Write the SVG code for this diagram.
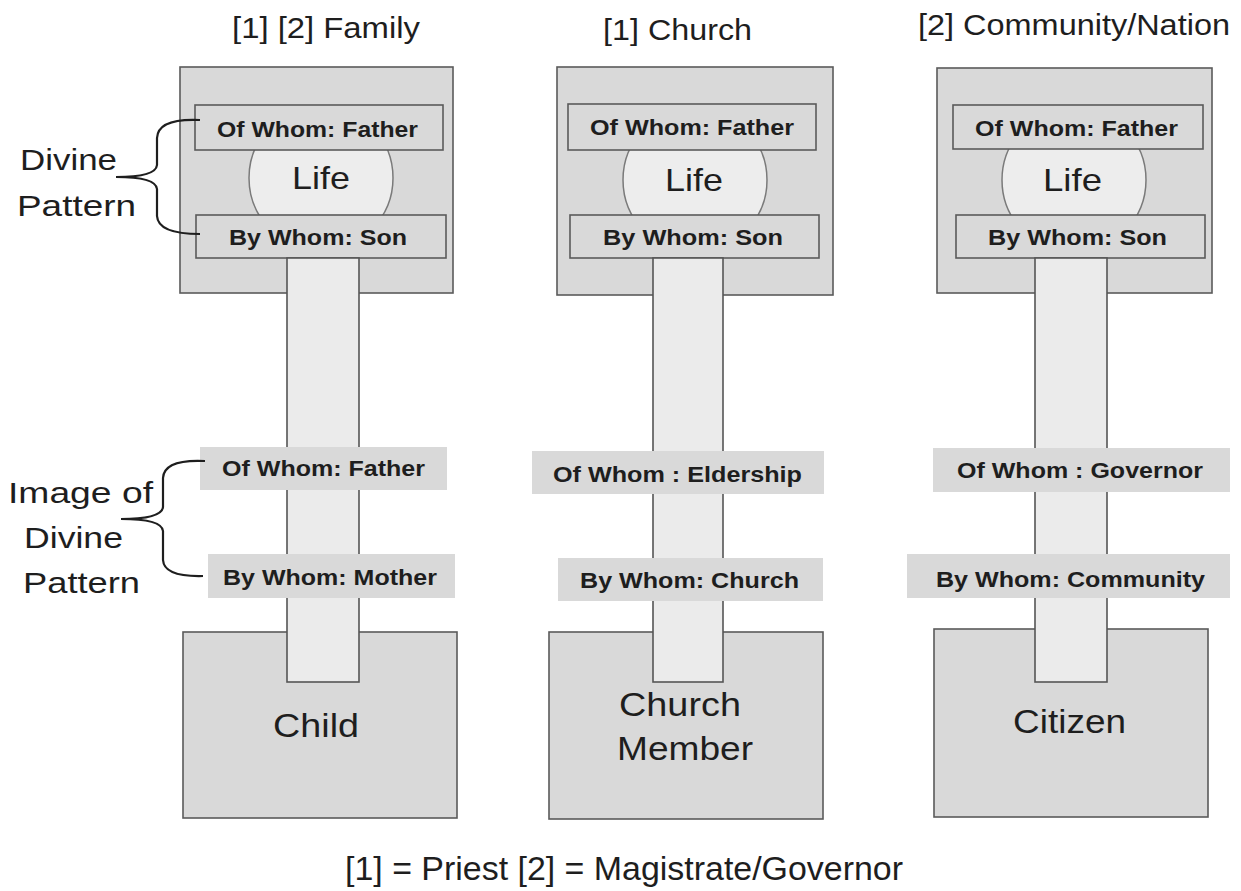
<svg xmlns="http://www.w3.org/2000/svg" width="1241" height="891" viewBox="0 0 1241 891">
<style>
.box{fill:#d9d9d9;stroke:#5a5a5a;stroke-width:1.6}
.lbl{fill:#d9d9d9;stroke:none}
.stem{fill:#ebebeb;stroke:#555;stroke-width:1.6}
.life{fill:#ededed;stroke:#7a7a7a;stroke-width:1.5}
.t{font-family:"Liberation Sans",Arial,sans-serif;fill:#1e1e1e}
.b{font-family:"Liberation Sans",Arial,sans-serif;font-weight:bold;font-size:22px;fill:#1e1e1e}
.brace{fill:none;stroke:#1e1e1e;stroke-width:2.2}
</style>
<rect width="1241" height="891" fill="#ffffff"/>

<g id="titles">
<text class="t" x="232" y="38" font-size="30" textLength="188" lengthAdjust="spacingAndGlyphs">[1] [2] Family</text>
<text class="t" x="603" y="40" font-size="30" textLength="149" lengthAdjust="spacingAndGlyphs">[1] Church</text>
<text class="t" x="918" y="35" font-size="30" textLength="312" lengthAdjust="spacingAndGlyphs">[2] Community/Nation</text>
</g>

<g id="col-family">
<rect class="box" x="183" y="632" width="274" height="186"/>
<text class="t" x="273" y="737" font-size="33" textLength="86" lengthAdjust="spacingAndGlyphs">Child</text>
<rect class="box" x="180" y="67" width="273" height="226"/>
<circle class="life" cx="321" cy="178" r="72"/>
<rect class="box" x="195" y="105" width="248" height="45"/>
<text class="b" x="217" y="137" textLength="201" lengthAdjust="spacingAndGlyphs">Of Whom: Father</text>
<text class="t" x="292" y="189" font-size="32" textLength="58" lengthAdjust="spacingAndGlyphs">Life</text>
<rect class="box" x="196" y="215" width="250" height="43"/>
<text class="b" x="229" y="245" textLength="178" lengthAdjust="spacingAndGlyphs">By Whom: Son</text>
<rect class="stem" x="287" y="258" width="72" height="424"/>
<rect class="lbl" x="200" y="447" width="247" height="43"/>
<text class="b" x="222" y="476" textLength="203" lengthAdjust="spacingAndGlyphs">Of Whom: Father</text>
<rect class="lbl" x="208" y="554" width="247" height="44"/>
<text class="b" x="223" y="585" textLength="214" lengthAdjust="spacingAndGlyphs">By Whom: Mother</text>
</g>

<g id="col-church">
<rect class="box" x="549" y="632" width="274" height="187"/>
<text class="t" x="619" y="716" font-size="33" textLength="122" lengthAdjust="spacingAndGlyphs">Church</text>
<text class="t" x="617" y="760" font-size="33" textLength="136" lengthAdjust="spacingAndGlyphs">Member</text>
<rect class="box" x="557" y="67" width="276" height="228"/>
<circle class="life" cx="695" cy="180" r="72"/>
<rect class="box" x="568" y="104" width="248" height="46"/>
<text class="b" x="590" y="135" textLength="204" lengthAdjust="spacingAndGlyphs">Of Whom: Father</text>
<text class="t" x="665" y="191" font-size="32" textLength="58" lengthAdjust="spacingAndGlyphs">Life</text>
<rect class="box" x="570" y="215" width="249" height="43"/>
<text class="b" x="603" y="245" textLength="180" lengthAdjust="spacingAndGlyphs">By Whom: Son</text>
<rect class="stem" x="653" y="258" width="70" height="424"/>
<rect class="lbl" x="532" y="451" width="292" height="43"/>
<text class="b" x="553" y="482" textLength="249" lengthAdjust="spacingAndGlyphs">Of Whom : Eldership</text>
<rect class="lbl" x="558" y="558" width="265" height="43"/>
<text class="b" x="580" y="588" textLength="219" lengthAdjust="spacingAndGlyphs">By Whom: Church</text>
</g>

<g id="col-community">
<rect class="box" x="934" y="629" width="274" height="188"/>
<text class="t" x="1013" y="733" font-size="33" textLength="113" lengthAdjust="spacingAndGlyphs">Citizen</text>
<rect class="box" x="937" y="68" width="275" height="225"/>
<circle class="life" cx="1074" cy="180" r="72"/>
<rect class="box" x="953" y="105" width="250" height="44"/>
<text class="b" x="975" y="136" textLength="203" lengthAdjust="spacingAndGlyphs">Of Whom: Father</text>
<text class="t" x="1043" y="191" font-size="32" textLength="59" lengthAdjust="spacingAndGlyphs">Life</text>
<rect class="box" x="956" y="215" width="249" height="43"/>
<text class="b" x="988" y="245" textLength="179" lengthAdjust="spacingAndGlyphs">By Whom: Son</text>
<rect class="stem" x="1035" y="258" width="72" height="424"/>
<rect class="lbl" x="933" y="448" width="297" height="44"/>
<text class="b" x="957" y="478" textLength="246" lengthAdjust="spacingAndGlyphs">Of Whom : Governor</text>
<rect class="lbl" x="907" y="554" width="323" height="44"/>
<text class="b" x="936" y="587" textLength="269" lengthAdjust="spacingAndGlyphs">By Whom: Community</text>
</g>

<g id="side-labels">
<text class="t" x="20" y="170" font-size="30" textLength="97" lengthAdjust="spacingAndGlyphs">Divine</text>
<text class="t" x="17" y="216" font-size="30" textLength="119" lengthAdjust="spacingAndGlyphs">Pattern</text>
<text class="t" x="8" y="503" font-size="30" textLength="145" lengthAdjust="spacingAndGlyphs">Image of</text>
<text class="t" x="24" y="548" font-size="30" textLength="99" lengthAdjust="spacingAndGlyphs">Divine</text>
<text class="t" x="23" y="593" font-size="30" textLength="117" lengthAdjust="spacingAndGlyphs">Pattern</text>
</g>

<g id="connectors">
<path class="brace" d="M200,120 Q158,118 157,138 L157,165 Q156,177 116,177 Q156,177 157,189 L157,216 Q158,234 200,234"/>
<path class="brace" d="M205,461 Q164,459 163,478 L163,507 Q162,519 121,519 Q162,519 163,531 L163,560 Q164,577 203,576"/>
</g>

<g id="footer">
<text class="t" x="345" y="880" font-size="34" textLength="558" lengthAdjust="spacingAndGlyphs">[1] = Priest [2] = Magistrate/Governor</text>
</g>
</svg>
